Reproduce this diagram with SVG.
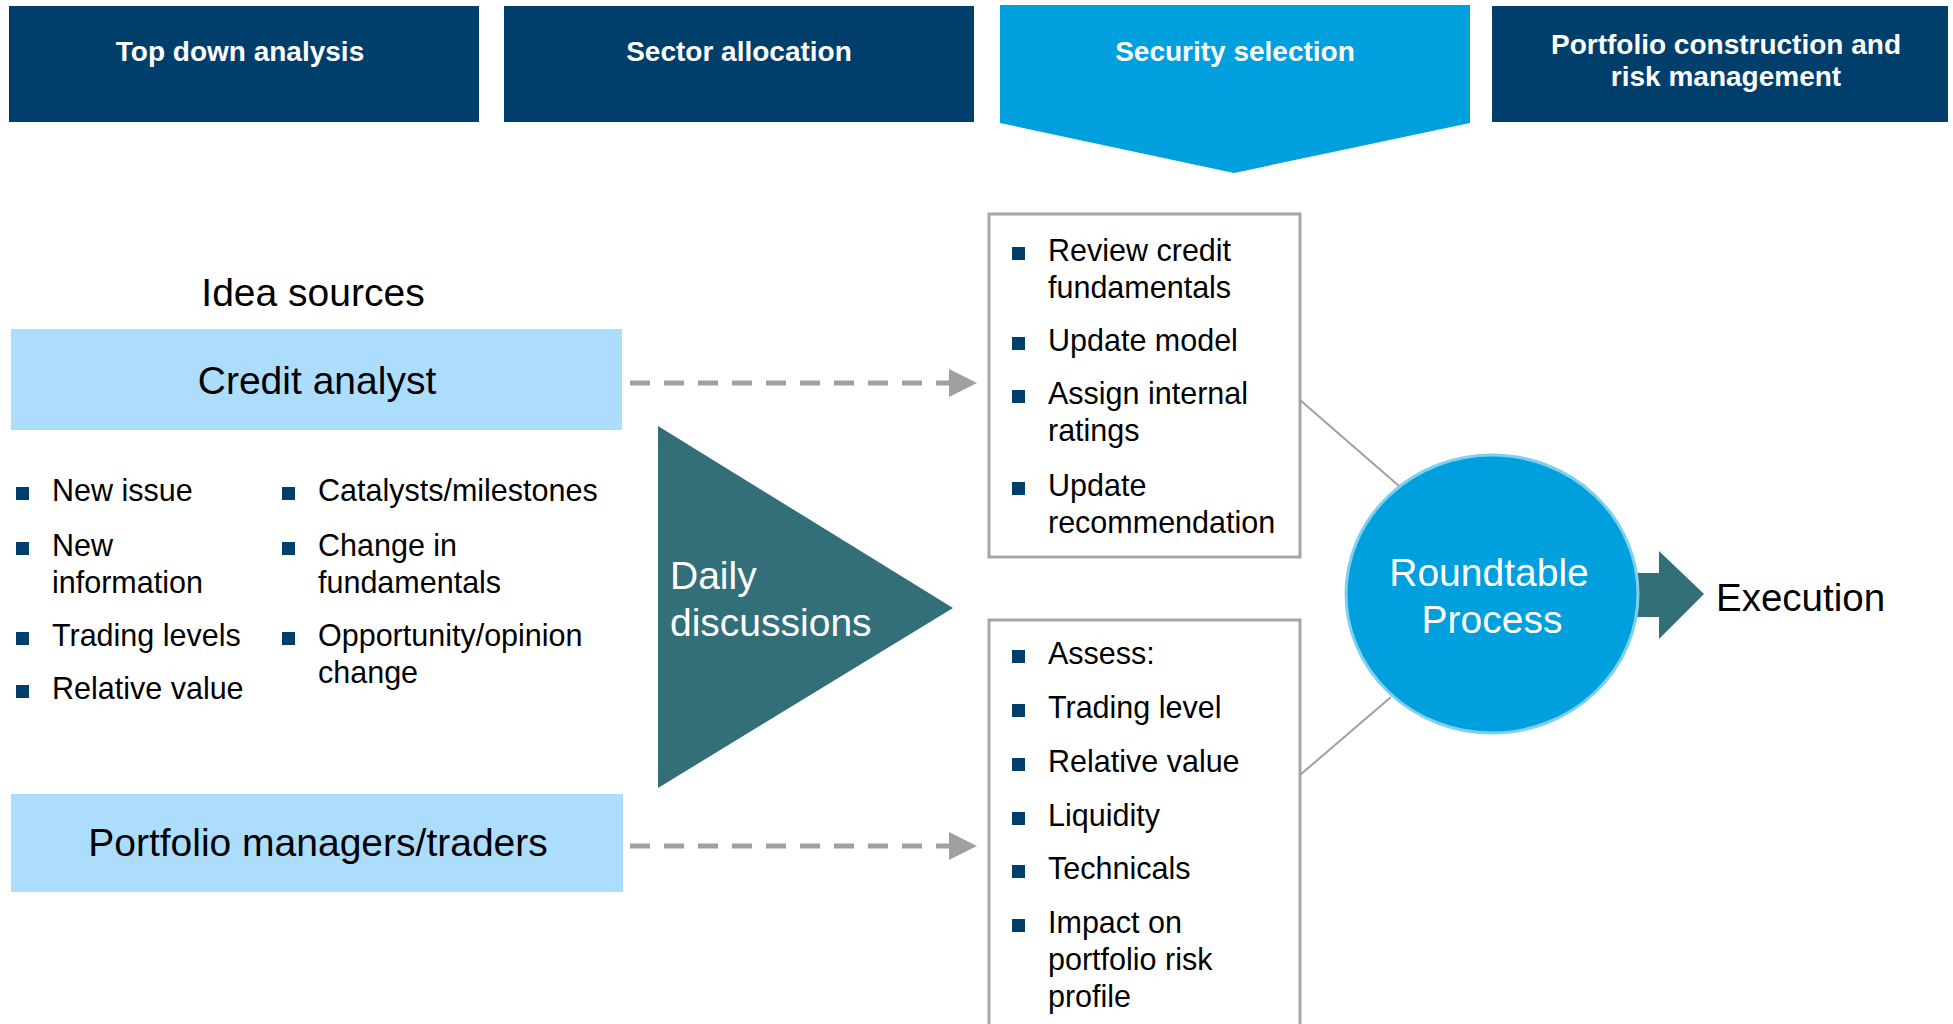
<svg xmlns="http://www.w3.org/2000/svg" width="1953" height="1024" viewBox="0 0 1953 1024">
<style>
.hdr{fill:#003E6B}
.ht{font-family:"Liberation Sans",Arial,sans-serif;font-weight:bold;font-size:28px;fill:#fff;text-anchor:middle}
.src{fill:#ADDDFC}
.st{font-family:"Liberation Sans",Arial,sans-serif;font-size:39px;fill:#000;text-anchor:middle}
.bt{font-family:"Liberation Sans",Arial,sans-serif;font-size:30.5px;fill:#000}
.sq{fill:#003E6B}
.box{fill:#fff;stroke:#A6A6A6;stroke-width:3}
.dash{stroke:#A0A0A0;stroke-width:5;stroke-dasharray:20 14;fill:none}
.thin{stroke:#A0A0A0;stroke-width:2;fill:none}
.wt{font-family:"Liberation Sans",Arial,sans-serif;font-size:39px;fill:#fff}
</style>
<rect width="1953" height="1024" fill="#fff"/>

<g id="hdr-topdown">
<rect class="hdr" x="9" y="6" width="470" height="116"/>
<text class="ht" x="240" y="61">Top down analysis</text>
</g>
<g id="hdr-sector">
<rect class="hdr" x="504" y="6" width="470" height="116"/>
<text class="ht" x="739" y="61">Sector allocation</text>
</g>
<g id="hdr-security">
<path d="M1000,5 H1470 V123 L1234,173 L1000,123 Z" fill="#00A0DF"/>
<text class="ht" x="1235" y="61">Security selection</text>
</g>
<g id="hdr-portfolio">
<rect class="hdr" x="1492" y="6" width="456" height="116"/>
<text class="ht" x="1726" y="54">Portfolio construction and</text>
<text class="ht" x="1726" y="86">risk management</text>
</g>

<g id="idea-sources">
<text class="st" x="313" y="306">Idea sources</text>
</g>

<g id="credit-analyst">
<rect class="src" x="11" y="329" width="611" height="101"/>
<text class="st" x="317" y="394">Credit analyst</text>
</g>

<g id="credit-bullets">
<rect class="sq" x="16" y="487" width="13" height="13"/>
<text class="bt" x="52" y="501">New issue</text>
<rect class="sq" x="16" y="542" width="13" height="13"/>
<text class="bt" x="52" y="556">New</text>
<text class="bt" x="52" y="593">information</text>
<rect class="sq" x="16" y="632" width="13" height="13"/>
<text class="bt" x="52" y="646">Trading levels</text>
<rect class="sq" x="16" y="685" width="13" height="13"/>
<text class="bt" x="52" y="699">Relative value</text>
<rect class="sq" x="282" y="487" width="13" height="13"/>
<text class="bt" x="318" y="501">Catalysts/milestones</text>
<rect class="sq" x="282" y="542" width="13" height="13"/>
<text class="bt" x="318" y="556">Change in</text>
<text class="bt" x="318" y="593">fundamentals</text>
<rect class="sq" x="282" y="632" width="13" height="13"/>
<text class="bt" x="318" y="646">Opportunity/opinion</text>
<text class="bt" x="318" y="683">change</text>
</g>

<g id="portfolio-managers">
<rect class="src" x="11" y="794" width="612" height="98"/>
<text class="st" x="318" y="856">Portfolio managers/traders</text>
</g>

<g id="daily-discussions">
<path d="M658,426 L953,608 L658,788 Z" fill="#336F78"/>
<text class="wt" x="670" y="589">Daily</text>
<text class="wt" x="670" y="636">discussions</text>
</g>

<g id="credit-tasks">
<rect class="box" x="989" y="214" width="311" height="343"/>
<rect class="sq" x="1012" y="247" width="13" height="13"/>
<text class="bt" x="1048" y="261">Review credit</text>
<text class="bt" x="1048" y="298">fundamentals</text>
<rect class="sq" x="1012" y="337" width="13" height="13"/>
<text class="bt" x="1048" y="351">Update model</text>
<rect class="sq" x="1012" y="390" width="13" height="13"/>
<text class="bt" x="1048" y="404">Assign internal</text>
<text class="bt" x="1048" y="441">ratings</text>
<rect class="sq" x="1012" y="482" width="13" height="13"/>
<text class="bt" x="1048" y="496">Update</text>
<text class="bt" x="1048" y="533">recommendation</text>
</g>

<g id="pm-tasks">
<rect class="box" x="989" y="620" width="311" height="420"/>
<rect class="sq" x="1012" y="650" width="13" height="13"/>
<text class="bt" x="1048" y="664">Assess:</text>
<rect class="sq" x="1012" y="704" width="13" height="13"/>
<text class="bt" x="1048" y="718">Trading level</text>
<rect class="sq" x="1012" y="758" width="13" height="13"/>
<text class="bt" x="1048" y="772">Relative value</text>
<rect class="sq" x="1012" y="812" width="13" height="13"/>
<text class="bt" x="1048" y="826">Liquidity</text>
<rect class="sq" x="1012" y="865" width="13" height="13"/>
<text class="bt" x="1048" y="879">Technicals</text>
<rect class="sq" x="1012" y="919" width="13" height="13"/>
<text class="bt" x="1048" y="933">Impact on</text>
<text class="bt" x="1048" y="970">portfolio risk</text>
<text class="bt" x="1048" y="1007">profile</text>
</g>

<g id="connectors">
<line class="dash" x1="630" y1="383" x2="960" y2="383"/>
<path d="M949,369 L977,383 L949,397 Z" fill="#A0A0A0"/>
<line class="dash" x1="630" y1="846" x2="960" y2="846"/>
<path d="M949,832 L977,846 L949,860 Z" fill="#A0A0A0"/>
<line class="thin" x1="1300" y1="400" x2="1399" y2="486"/>
<line class="thin" x1="1300" y1="775" x2="1391" y2="697"/>
<path d="M1636,573 H1659 V551 L1704,594 L1659,639 V617 H1636 Z" fill="#336F78"/>
</g>

<g id="roundtable">
<ellipse cx="1492" cy="594" rx="146" ry="139" fill="#00A0DF" stroke="#7FD0EC" stroke-width="3"/>
<text class="wt" x="1489" y="586" text-anchor="middle">Roundtable</text>
<text class="wt" x="1492" y="633" text-anchor="middle">Process</text>
</g>

<g id="execution">
<text class="bt" x="1716" y="611" style="font-size:38.5px">Execution</text>
</g>
</svg>
